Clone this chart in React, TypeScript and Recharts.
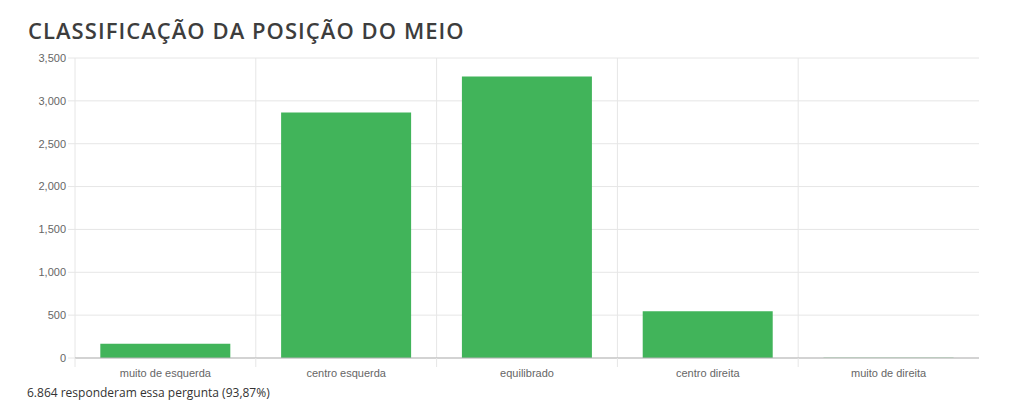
import React from "react";
import { BarChart, Bar, XAxis, YAxis, CartesianGrid } from "recharts";

const categories = ["muito de esquerda", "centro esquerda", "equilibrado", "centro direita", "muito de direita"];
const counts = [165, 2865, 3285, 545, 4];
const yTicks = [0, 500, 1000, 1500, 2000, 2500, 3000, 3500];
const title = "CLASSIFICAÇÃO DA POSIÇÃO DO MEIO";
const footer = "6.864 responderam essa pergunta (93,87%)";

const data = categories.map((c, i) => ({ name: c, value: counts[i] }));

const fmt = (v: number) => v.toLocaleString("en-US");

const XTick = (props: any) => {
  const { x, y, payload } = props;
  const off = payload.offset || 0;
  return (
    <g>
      <line x1={x - off} x2={x - off} y1={y - 8} y2={y + 1} stroke="#e6e6e6" strokeWidth={1} />
      <text x={x} y={y + 11} textAnchor="middle" fill="#666" fontSize={11} fontFamily="'Liberation Sans', Arial, sans-serif">
        {payload.value}
      </text>
    </g>
  );
};

const vGen = (args: any) => {
  const { offset } = args;
  const n = categories.length;
  return categories.map((_, i) => offset.left + (i * offset.width) / n);
};

export default function App() {
  return (
    <div style={{ position: "absolute", left: 0, top: 0, width: 1024, height: 417, background: "#fff", overflow: "hidden" }}>
      <div style={{ position: "absolute", left: 28, top: 15, fontFamily: "'Open Sans', sans-serif", fontWeight: 600, fontSize: 22, color: "#3d3d3d", letterSpacing: 1.05, whiteSpace: "nowrap" }}>
        {title}
      </div>
      <div style={{ position: "absolute", left: 0, top: 0 }}>
        <BarChart width={1024} height={417} data={data} margin={{ top: 58, right: 45, bottom: 29, left: 0 }} barCategoryGap="14%">
          <CartesianGrid stroke="#e6e6e6" verticalCoordinatesGenerator={vGen} />
          <XAxis dataKey="name" height={30} tickLine={false} axisLine={{ stroke: "#b3b3b3" }} tick={<XTick />} interval={0} />
          <YAxis
            width={75}
            domain={[0, 3500]}
            ticks={yTicks}
            tickFormatter={fmt}
            axisLine={false}
            tickSize={7}
            tickLine={{ stroke: "#e6e6e6" }}
            tick={{ fill: "#666", fontSize: 11, fontFamily: "'Liberation Sans', Arial, sans-serif" }}
            interval={0}
          />
          <Bar dataKey="value" fill="#41b45a" isAnimationActive={false} />
        </BarChart>
      </div>
      <div style={{ position: "absolute", left: 27, top: 384, fontFamily: "'Open Sans', sans-serif", fontSize: 12, color: "#333", whiteSpace: "nowrap" }}>
        {footer}
      </div>
    </div>
  );
}
